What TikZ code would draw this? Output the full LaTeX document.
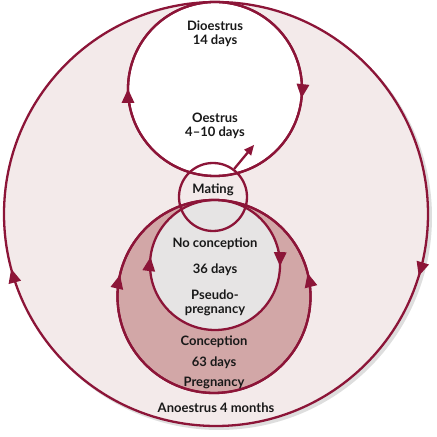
\documentclass[tikz,border=0pt]{standalone}
\usepackage{fontspec}
\setmainfont{Lato}
\usetikzlibrary{calc}
\definecolor{maroon}{HTML}{8C1538}
\definecolor{bgpink}{HTML}{F3EAEA}
\definecolor{rose}{HTML}{D2A7A7}
\definecolor{pgrey}{HTML}{E6E4E4}
\definecolor{shadow}{HTML}{DEDEDE}
\tikzset{
  ring/.style={circle, draw=maroon, line width=2.3pt, inner sep=0pt},
  lbl/.style={font=\fontsize{13}{14}\selectfont\bfseries, text=black!90, align=center, inner sep=0pt},
}
% #1 centre, #2 radius, #3 angle of tip, #4 direction the tip points
\newcommand\arrtri[4]{%
  \fill[maroon] ([shift={(#3:#2)}]#1) -- +({#4+155.1}:15.4) -- +({#4+204.9}:15.4) -- cycle;}
\begin{document}
\begin{tikzpicture}[x=1pt,y=1pt]
\useasboundingbox (0,0) rectangle (437,437);
% centres (y up)
\coordinate (co) at (216,223);
\coordinate (cd) at (215,348);
\coordinate (cm) at (213,240);
\coordinate (cc) at (214,140.5);
\coordinate (cp) at (215,172);
% shadow
\fill[shadow] ([shift={(3,-3)}]co) circle[radius=213];
% fills
\node[ring, fill=bgpink, minimum size=424pt] (outer) at (co) {};
\node[ring, fill=white, minimum size=174pt] (dio) at (cd) {};
\node[ring, fill=rose, minimum size=193pt] (conc) at (cc) {};
\node[ring, fill=pgrey, minimum size=130pt] (pseudo) at (cp) {};
\node[ring, minimum size=68pt] (mating) at (cm) {};
% redraw strokes on top
\draw[maroon, line width=2.3pt] (cd) circle[radius=87];
\draw[maroon, line width=2.3pt] (cc) circle[radius=96.5];
% arrowheads on circles
\arrtri{cd}{87}{180}{90}
\arrtri{cd}{87}{-6}{-96}
\arrtri{cp}{65}{173}{83}
\arrtri{cp}{65}{-1}{-91}
\arrtri{cc}{96.5}{167}{77}
\arrtri{cc}{96.5}{14}{104}
\arrtri{co}{212}{195}{105}
\arrtri{co}{212}{-17}{-107}
% oestrus arrow
\coordinate (oend) at (254,292);
\draw[maroon, line width=2.3pt] (mating.53) -- ($(oend)+(230:5)$);
\fill[maroon] (oend) -- +({50+155}:11) -- +({50+205}:11) -- cycle;
% labels
\node[lbl] (l1) at (215,403) {Dioestrus\\14 days};
\node[lbl] (l2) at (215,311) {Oestrus\\4--10 days};
\node[lbl] (l3) at (213,247) {Mating};
\node[lbl] (l4) at (215,193) {No conception};
\node[lbl] (l5) at (215,167) {36 days};
\node[lbl] (l6) at (215,134) {Pseudo-\\pregnancy};
\node[lbl] (l7) at (214,95) {Conception};
\node[lbl] (l8) at (214,74) {63 days};
\node[lbl] (l9) at (214,54) {Pregnancy};
\node[lbl] (l10) at (216,29) {Anoestrus 4 months};
\end{tikzpicture}
\end{document}
